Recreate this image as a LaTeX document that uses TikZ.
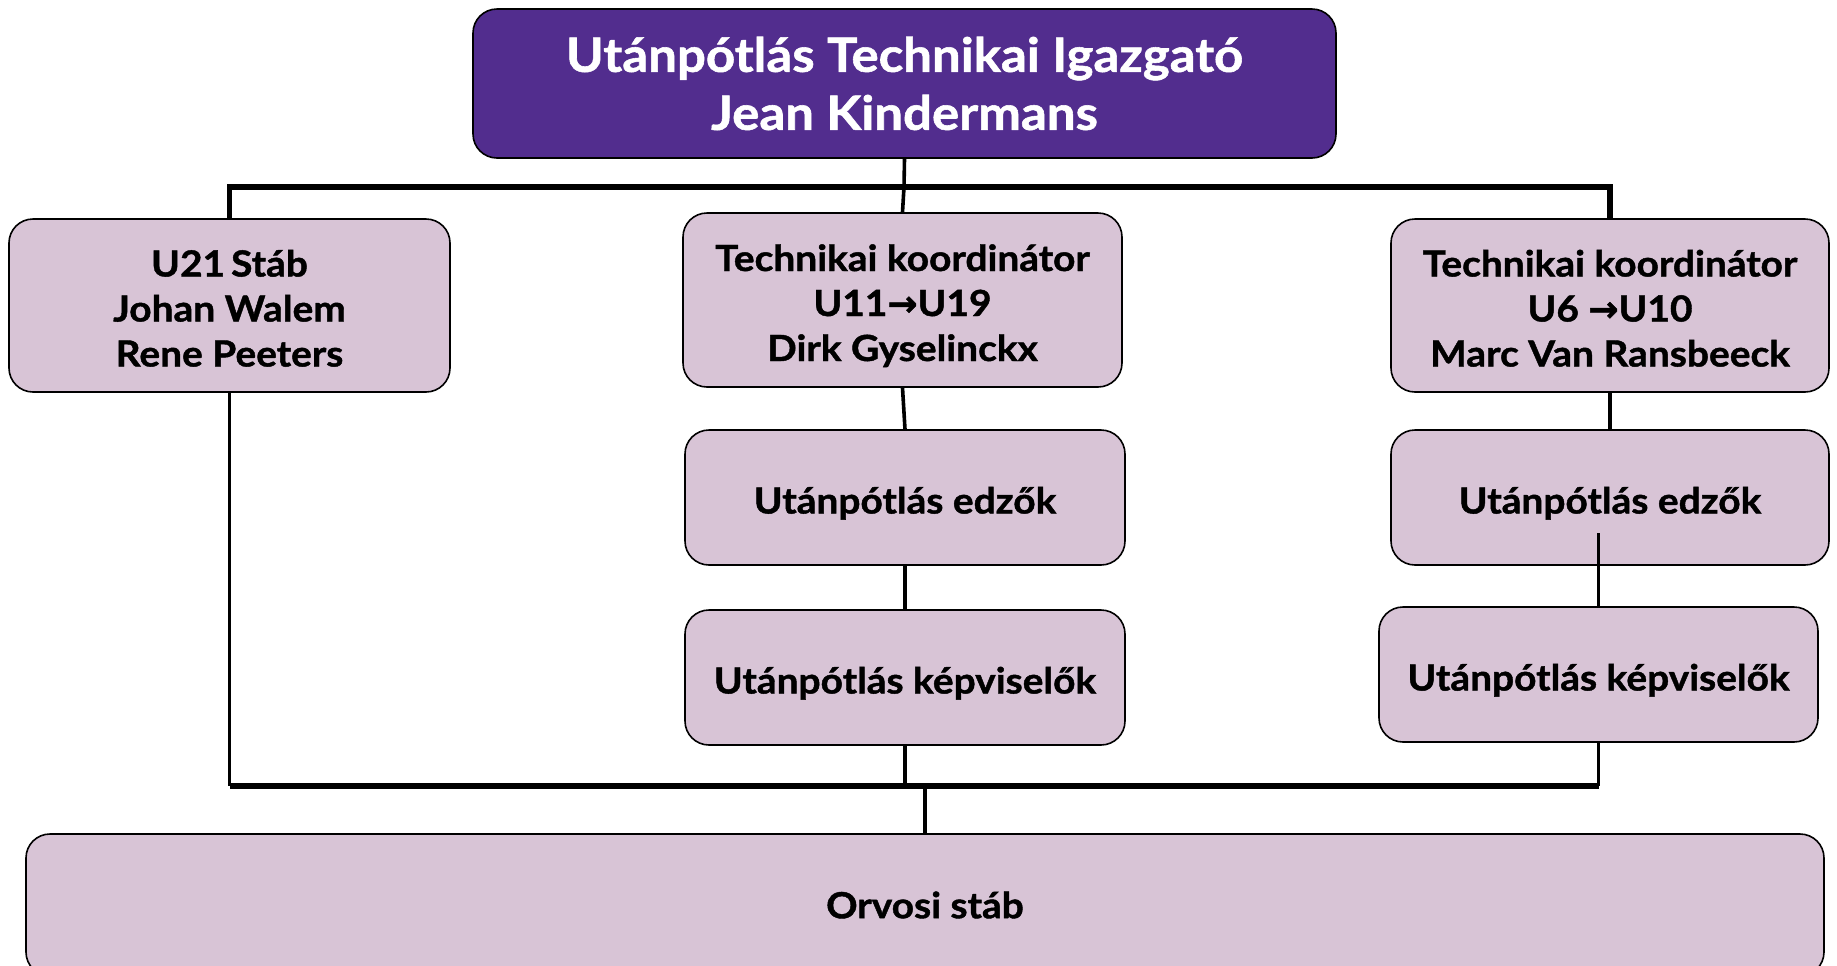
\documentclass[tikz,border=0pt]{standalone}
\usepackage{fontspec}
\setmainfont{Lato}[FakeStretch=1.08,BoldFeatures={FakeBold=1.2}]
\newfontfamily\arrowfont{DejaVu Sans}[BoldFeatures={FakeBold=1.2}]
\definecolor{topfill}{RGB}{82,45,142}
\definecolor{boxfill}{RGB}{216,196,214}
\newcommand\lowtext[1]{\raisebox{-3.5pt}[\height][\depth]{\begin{tabular}{@{}c@{}}#1\end{tabular}}}
\begin{document}
\begin{tikzpicture}[x=0.5pt,y=-0.5pt,
  box/.style={draw=black,line width=0.8pt,rounded corners=12pt,fill=boxfill,
    align=center,font=\fontsize{18}{22.5}\selectfont\bfseries,inner sep=0pt},
  topbox/.style={box,fill=topfill,text=white,font=\fontsize{23.6}{29}\selectfont\bfseries},
  hconn/.style={line width=2.6pt},
  vconn/.style={line width=1.8pt}]
\useasboundingbox (0,0) rectangle (1837,965);
% nodes
\node[topbox,minimum width=431.5pt,minimum height=74.5pt] (top) at (904.5,83.5)
  {Utánpótlás Technikai Igazgató\\Jean Kindermans};
\node[box,minimum width=220.5pt,minimum height=86.5pt] (u21) at (229.5,305.5)
  {\lowtext{U21\,Stáb\\Johan Walem\\Rene Peeters}};
\node[box,minimum width=219.5pt,minimum height=87pt] (mt) at (902.5,300)
  {\lowtext{Technikai koordinátor\\U11{\arrowfont→}U19\\Dirk Gyselinckx}};
\node[box,minimum width=219pt,minimum height=86.5pt] (rt) at (1610,305.5)
  {\lowtext{Technikai koordinátor\\U6 {\arrowfont→}U10\\Marc Van Ransbeeck}};
\node[box,minimum width=220pt,minimum height=67.5pt] (me) at (905,497.5)
  {\lowtext{Utánpótlás edzők}};
\node[box,minimum width=219pt,minimum height=67.5pt] (re) at (1610,497.5)
  {\lowtext{Utánpótlás edzők}};
\node[box,minimum width=220pt,minimum height=67.5pt] (mk) at (905,677.5)
  {\lowtext{Utánpótlás képviselők}};
\node[box,minimum width=219.5pt,minimum height=67.5pt] (rk) at (1598.5,674.5)
  {\lowtext{Utánpótlás képviselők}};
\node[box,minimum width=899pt,minimum height=71pt] (orv) at (925,905)
  {Orvosi stáb};
% junctions
\coordinate (jt) at (904,187);
\coordinate (jb) at (925,786);
\coordinate (rin) at (1598.5,533);
% connectors
\draw[vconn] (top.south) -- (jt);
\draw[hconn] (u21.north) |- (jt) -| (rt.north);
\draw[vconn] (jt) -- (mt.north);
\draw[vconn] (mt.south) -- (me.north);
\draw[vconn] (me.south) -- (mk.north);
\draw[vconn] (rt.south) -- (re.north);
\draw[vconn] (rin) -- (rk.north);
\draw[vconn] (u21.south) -- (u21.south |- jb);
\draw[vconn] (mk.south) -- (mk.south |- jb);
\draw[vconn] (rk.south) -- (rk.south |- jb);
\draw[hconn] (u21.south |- jb) -- (rk.south |- jb);
\draw[vconn] (jb) -- (orv.north);
\end{tikzpicture}
\end{document}
